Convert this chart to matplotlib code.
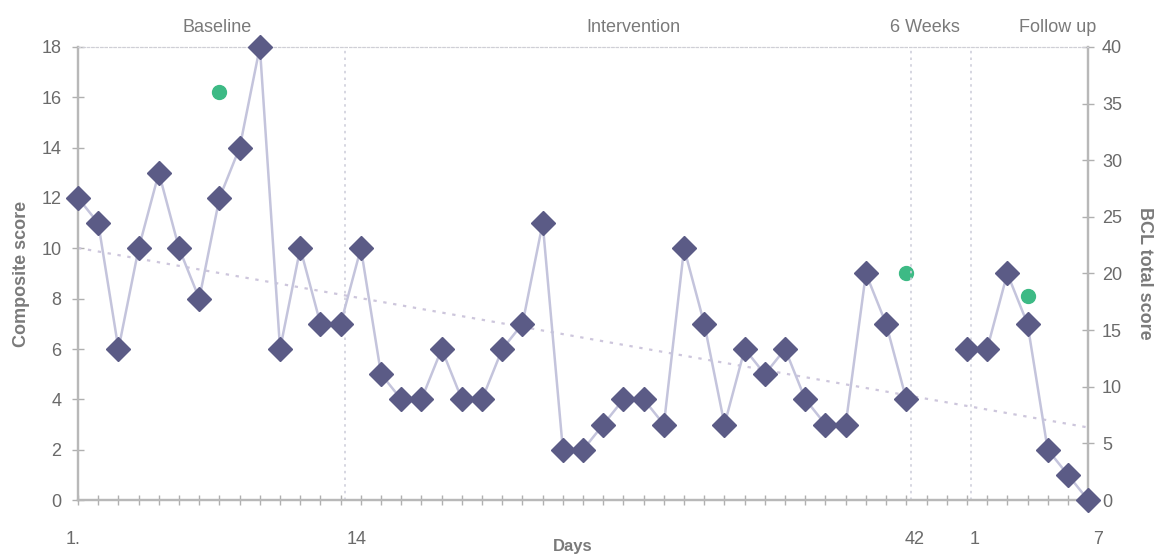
import numpy as np
import matplotlib.pyplot as plt

plt.rcParams['font.family'] = ['Liberation Sans', 'DejaVu Sans']

# composite score per measurement day (index along the category axis, gap = no data)
composite = [12, 11, 6, 10, 13, 10, 8, 12, 14, 18, 6, 10, 7, 7,
             10, 5, 4, 4, 6, 4, 4, 6, 7, 11, 2, 2, 3, 4, 4, 3,
             10, 7, 3, 6, 5, 6, 4, 3, 3, 9, 7, 4,
             np.nan, np.nan,
             6, 6, 9, 7, 2, 1, 0]
# BCL total score (right axis), measured three times
bcl_idx = [7, 41, 47]
bcl_val = [36, 20, 18]

xlabels = ['1.', '14', '42', '1', '7']
xlabel_pos = [-0.25, 13.8, 41.4, 44.4, 50.5]
phase_lines = [13.2, 41.25, 44.2]
phases = ['Baseline', 'Intervention', '6 Weeks', 'Follow up']
phase_pos = [6.9, 27.5, 41.9, 48.5]

grey = '#7a7a7a'
x = np.arange(len(composite))
y = np.array(composite, dtype=float)

fig = plt.figure(figsize=(11.65, 5.56), dpi=100)
ax = fig.add_axes([0.067, 0.1007, 0.867, 0.8148])
ax2 = ax.twinx()

for xl in phase_lines:
    ax.axvline(xl, color='#d0d0dc', lw=1.2, ls=(0, (1.5, 2.5)), zorder=1)

# linear trendline (like the spreadsheet one)
ok = ~np.isnan(y)
k, b = np.polyfit(x[ok], y[ok], 1)
xt = np.array([0, x[-1]])
ax.plot(xt, k * xt + b, color='#cdc6dc', lw=1.6, ls=(0, (1.5, 3)), zorder=2)

ax.plot(x, y, color='#c4c4dc', lw=1.8, zorder=3, clip_on=False)
ax.plot(x, y, ls='none', marker='D', ms=12, color='#5b5b86', zorder=4, clip_on=False)

ax2.plot(bcl_idx, bcl_val, ls='none', marker='o', ms=10, color='#3dba85', zorder=5)

ax.set_xlim(0, x[-1])
ax.set_ylim(0, 18)
ax2.set_ylim(0, 40)
ax.set_yticks(range(0, 19, 2))
ax2.set_yticks(range(0, 41, 5))
ax.set_xticks(x)
ax.set_xticklabels([])

for a in (ax, ax2):
    for s in ('left', 'right', 'bottom'):
        a.spines[s].set_color('#b8b8b8')
        a.spines[s].set_linewidth(1.6)
    a.spines['top'].set_color('#cfcfd6')
    a.spines['top'].set_linestyle((0, (2, 2)))
    a.tick_params(colors='#b0b0b0', direction='inout', length=8, width=1,
                  labelcolor='#6a6a6a', labelsize=13)
ax.tick_params(axis='x', length=7)
ax.tick_params(axis='y', pad=8)
ax2.tick_params(axis='y', pad=6)
ax.set_zorder(ax2.get_zorder() + 1)
ax.patch.set_visible(False)

for lab, p in zip(xlabels, xlabel_pos):
    ax.text(p, -0.068, lab, transform=ax.get_xaxis_transform(), ha='center', va='top',
            fontsize=13, color='#6a6a6a')
for lab, p in zip(phases, phase_pos):
    ax.text(p, 1.025, lab, transform=ax.get_xaxis_transform(), ha='center', va='bottom',
            fontsize=13, color=grey)

ax.set_ylabel('Composite score', fontsize=13, fontweight='bold', color=grey, labelpad=8)
ax2.set_ylabel('BCL total score', fontsize=13, fontweight='bold', color=grey,
               rotation=270, labelpad=22)
ax.text(0.49, -0.085, 'Days', transform=ax.transAxes, ha='center', va='top',
        fontsize=12, fontweight='bold', color=grey)

fig.savefig('out.png', dpi=100)
